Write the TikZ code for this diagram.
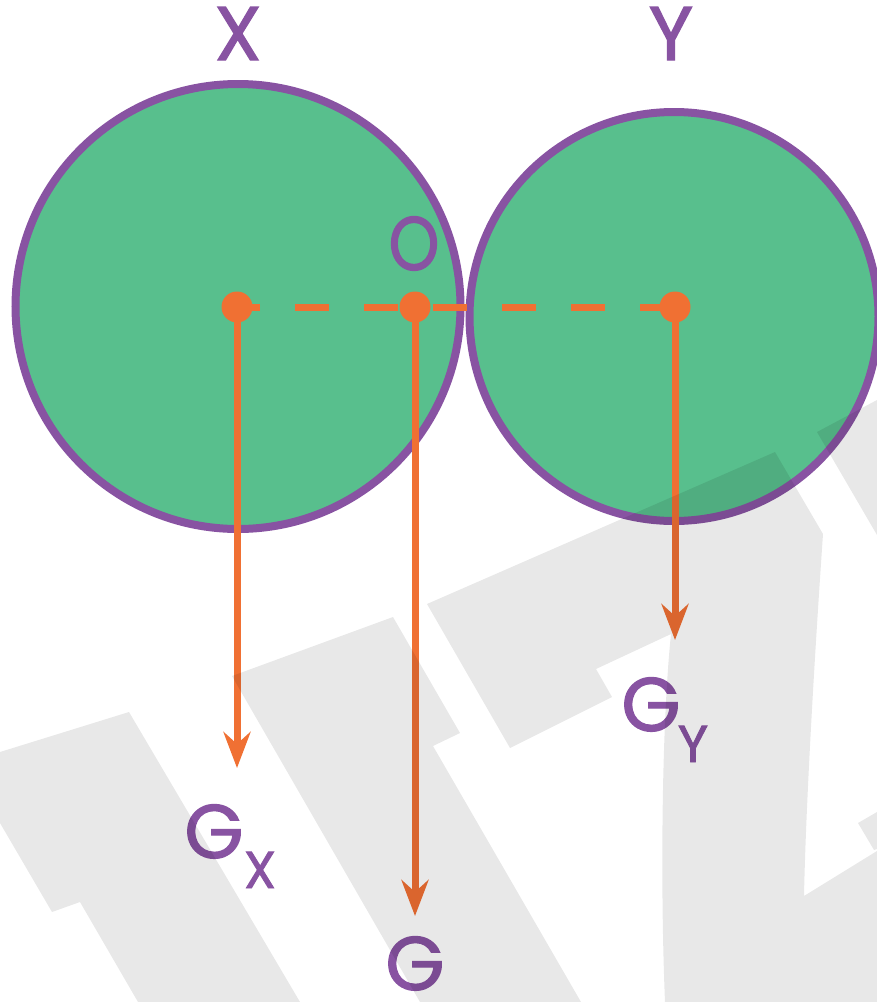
\documentclass[tikz,border=0pt]{standalone}
\usepackage{fontspec}
\setmainfont{Poppins}[FakeBold=1.6]
\usetikzlibrary{arrows.meta}
\definecolor{cgreen}{HTML}{58BF8D}
\definecolor{cpurple}{HTML}{8853A2}
\definecolor{corange}{HTML}{F07033}
\begin{document}
\begin{tikzpicture}[x=1pt,y=-1pt,
  ball/.style={circle, fill=cgreen, draw=cpurple, line width=8pt, inner sep=0pt},
  dot/.style={circle, fill=corange, inner sep=0pt, minimum size=31pt},
  force/.style={draw=corange, line width=7pt, -{Stealth[length=36pt,width=27pt,inset=12pt]}},
  link/.style={draw=corange, line width=7pt, dash pattern=on 34pt off 35pt, dash phase=11pt},
  big/.style={text=cpurple, inner sep=0pt, anchor=base, font=\fontsize{76}{76}\selectfont},
  sub/.style={text=cpurple, inner sep=0pt, anchor=base, font=\fontsize{52}{52}\selectfont},
  wm/.style={fill=black, opacity=0.09}
]
\fill[white] (0,0) rectangle (877,1002);
\useasboundingbox (0,0) rectangle (877,1002);

% bodies
\node[ball, minimum size=445pt] (bodyX) at (238,306.5) {};
\node[ball, minimum size=409pt] (bodyY) at (674,316.5) {};

% points
\coordinate (cX) at (237,307);
\coordinate (cO) at (415,307);
\coordinate (cY) at (675,307);
\coordinate (tX) at (237,768);
\coordinate (tO) at (415,916);
\coordinate (tY) at (675,640);

\draw[link] (cX) -- (cY);
\draw[force] (cX) -- (tX);
\draw[force] (cO) -- (tO);
\draw[force] (cY) -- (tY);

\node[dot] (dX) at (cX) {};
\node[dot] (dO) at (cO) {};
\node[dot] (dY) at (cY) {};

% labels
\node[big] (lX) at (238,60) {X};
\node[big] (lY) at (671,60) {Y};
\node[big] (lO) at (414,270) {\scalebox{0.85}[1]{O}};
\node[big] (lGX) at (214,858) {G};
\node[sub] (lGXs) at (260,888) {X};
\node[big] (lG) at (415,990) {G};
\node[big] (lGY) at (651,731) {G};
\node[sub] (lGYs) at (693,762) {Y};

% watermark
\fill[wm]
  (0,752) -- (129,712) -- (300,1002) -- (138,1002) -- (80,902) -- (52,912) -- (0,823) -- cycle
  (232,676) -- (393,617) -- (460,733) -- (433,746) -- (581,1002) -- (420,1002) -- cycle
  (427,604) -- (775,452) -- (823,534) .. controls (815,650) and (806,800) .. (804,896)
    -- (877,851) -- (877,1002) -- (665,1002) .. controls (660,880) and (662,720) .. (671,634)
    -- (596,669) -- (612,697) -- (510,748) -- cycle
  (817,432) -- (877,400) -- (877,535) -- cycle
  (858,823) -- (877,812) -- (877,849) -- (874,850) -- cycle;
\end{tikzpicture}
\end{document}
